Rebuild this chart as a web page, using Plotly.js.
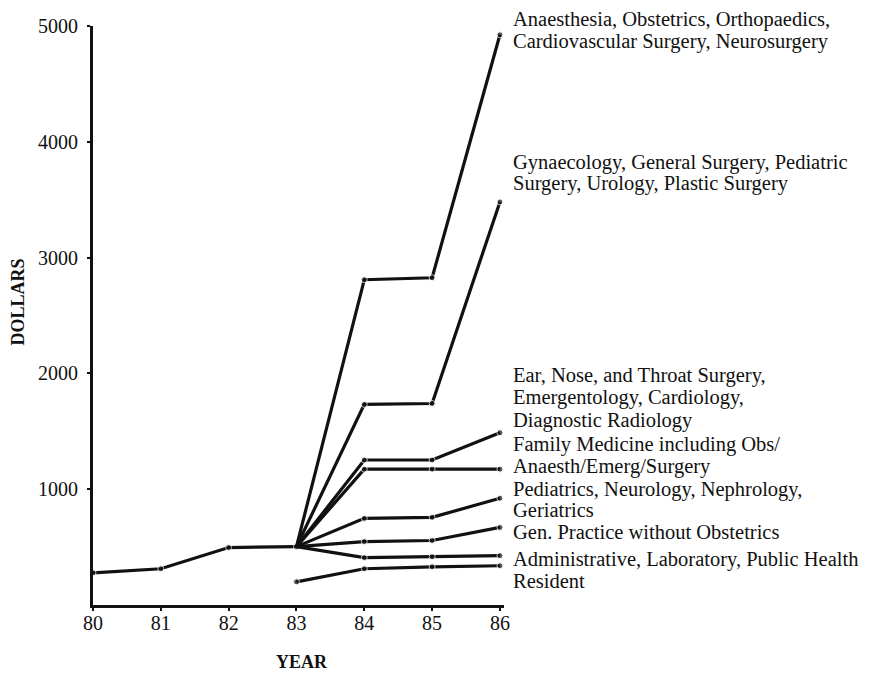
<!DOCTYPE html>
<html>
<head>
<meta charset="utf-8">
<script src="https://cdn.plot.ly/plotly-3.0.1.min.js"></script>
<style>
  html, body { margin: 0; padding: 0; background: #fff; }
  #chart { width: 871px; height: 674px; }
</style>
</head>
<body>
<div id="chart"></div>
<script>
// ---- data ----
const baseYears = [80, 81, 82, 83];
const baseValues = [278, 313, 496, 504];

const branchYears = [83, 84, 85, 86];
const anaesthesia = [504, 2809, 2826, 4924];
const gynaecology = [504, 1732, 1740, 3481];
const diagnostic = [504, 1252, 1252, 1488];
const familyMedicine = [504, 1173, 1173, 1173];
const pediatrics = [504, 748, 757, 922];
const genPractice = [504, 548, 557, 670];
const administrative = [504, 409, 417, 426];
const resident = [200, 313, 330, 339];

const xTickValues = [80, 81, 82, 83, 84, 85, 86];
const xTickLabels = ['80', '81', '82', '83', '84', '85', '86'];
const yTickValues = [1000, 2000, 3000, 4000, 5000];
const yTickLabels = ['1000', '2000', '3000', '4000', '5000'];

// label text, one entry per printed line
const labelLines = [
  'Anaesthesia, Obstetrics, Orthopaedics,',
  'Cardiovascular Surgery, Neurosurgery',
  'Gynaecology, General Surgery, Pediatric',
  'Surgery, Urology, Plastic Surgery',
  'Ear, Nose, and Throat Surgery,',
  'Emergentology, Cardiology,',
  'Diagnostic Radiology',
  'Family Medicine including Obs/',
  'Anaesth/Emerg/Surgery',
  'Pediatrics, Neurology, Nephrology,',
  'Geriatrics',
  'Gen. Practice without Obstetrics',
  'Administrative, Laboratory, Public Health',
  'Resident'
];

// ---- styling / layout ----
const FONT = 'Liberation Serif, Times New Roman, serif';
const INK = '#111';

function lineTrace(x, y, hideFirstMarker) {
  return {
    x: x, y: y, type: 'scatter', mode: 'lines+markers',
    line: { color: INK, width: 3.2 },
    marker: { color: INK, size: y.map((v, i) => (hideFirstMarker && i === 0) ? 0 : 6) },
    hoverinfo: 'x+y', showlegend: false
  };
}

const traces = [
  lineTrace(baseYears, baseValues, false),
  lineTrace(branchYears, anaesthesia, true),
  lineTrace(branchYears, gynaecology, true),
  lineTrace(branchYears, diagnostic, true),
  lineTrace(branchYears, familyMedicine, true),
  lineTrace(branchYears, pediatrics, true),
  lineTrace(branchYears, genPractice, true),
  lineTrace(branchYears, administrative, true),
  lineTrace(branchYears, resident, false)
];

// vertical centres of the label lines (pixel rows of the figure); plot spans rows 26..605
const labelRows = [20, 42, 162, 183, 375, 397, 420, 444, 466, 489, 510, 532, 559, 581];
const plotTop = 26, plotBottom = 605;

const annotations = labelLines.map((t, i) => ({
  text: t, xref: 'x', x: 86, xshift: 11, xanchor: 'left',
  yref: 'paper', y: (plotBottom - labelRows[i]) / (plotBottom - plotTop), yanchor: 'middle',
  align: 'left', showarrow: false,
  font: { family: FONT, size: 20.5, color: INK }
}));

annotations.push({
  text: '<b>YEAR</b>', xref: 'paper', x: 0.5, xshift: 3, xanchor: 'center',
  yref: 'paper', y: 0, yanchor: 'middle', yshift: -57,
  showarrow: false, font: { family: FONT, size: 18, color: INK }
});
annotations.push({
  text: '<b>DOLLARS</b>', xref: 'paper', x: 0, xshift: -76, xanchor: 'center',
  yref: 'paper', y: 0.5, yanchor: 'middle', yshift: 13, textangle: -90,
  showarrow: false, font: { family: FONT, size: 18, color: INK }
});

const layout = {
  width: 871, height: 674,
  margin: { l: 93, r: 367, t: 26, b: 69, pad: 0 },
  paper_bgcolor: '#fff', plot_bgcolor: '#fff',
  showlegend: false,
  xaxis: {
    range: [80, 86.06], showgrid: false, zeroline: false,
    showline: true, linecolor: INK, linewidth: 3,
    tickmode: 'array', tickvals: xTickValues, ticktext: xTickLabels,
    ticks: 'outside', ticklen: 3, tickwidth: 2, tickcolor: INK,
    ticklabelstandoff: -5,
    tickfont: { family: FONT, size: 20, color: INK }
  },
  yaxis: {
    range: [0, 5000], showgrid: false, zeroline: false,
    showline: true, linecolor: INK, linewidth: 3,
    tickmode: 'array', tickvals: yTickValues, ticktext: yTickLabels,
    ticks: 'outside', ticklen: 3, tickwidth: 2, tickcolor: INK,
    ticklabelstandoff: 5,
    tickfont: { family: FONT, size: 20, color: INK }
  },
  annotations: annotations
};

Plotly.newPlot('chart', traces, layout, { displayModeBar: false, staticPlot: true });
</script>
</body>
</html>
